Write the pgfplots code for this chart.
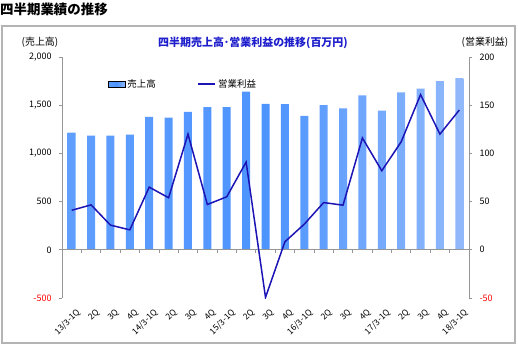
\documentclass[border=0pt]{standalone}
\usepackage{pgfplots}
\pgfplotsset{compat=1.18}
\usepackage{fontspec}
\setmainfont{Noto Sans CJK JP}
\definecolor{BarBlue}{HTML}{4D94FF}
\definecolor{BarLight}{HTML}{E6E6F6}
\definecolor{LineBlue}{HTML}{1C14B4}
\definecolor{TitleBlue}{HTML}{1E1ECC}
\definecolor{FrameGray}{HTML}{B4B4B4}
\definecolor{AxisGray}{HTML}{969696}
\pgfdeclarehorizontalshading{barshade}{100bp}{color(0bp)=(BarLight); color(20bp)=(BarBlue!85!BarLight); color(50bp)=(BarBlue); color(75bp)=(BarBlue!55!BarLight); color(100bp)=(BarLight)}
\begin{document}
\begin{tikzpicture}[x=1bp,y=1bp]
\useasboundingbox (0,0) rectangle (518,352);
\draw[FrameGray, line width=1.5bp] (2,326) rectangle (515,9);
\node[anchor=west, inner sep=0, font=\fontsize{13.5}{15}\selectfont\bfseries] at (0,343) {四半期業績の推移};
\node[font=\fontsize{11}{12}\selectfont\bfseries, text=TitleBlue] at (253,309) {四半期売上高･営業利益の推移(百万円)};
\node[font=\fontsize{10}{12}\selectfont] at (40,310) {(売上高)};
\node[font=\fontsize{10}{12}\selectfont] at (485,310) {(営業利益)};
\begin{axis}[
  at={(62bp,54bp)}, anchor=south west,
  scale only axis, width=407bp, height=241bp,
  xmin=-0.5, xmax=20.5, ymin=-500, ymax=2000,
  axis lines*=left, clip=false,
  x axis line style={draw=none},
  axis line style={AxisGray, line width=0.8bp},
  xtick={0,...,20},
  xticklabels={13/3-1Q,2Q,3Q,4Q,14/3-1Q,2Q,3Q,4Q,15/3-1Q,2Q,3Q,4Q,16/3-1Q,2Q,3Q,4Q,17/3-1Q,2Q,3Q,4Q,18/3-1Q},
  xtick style={draw=none},
  xticklabel style={rotate=45, anchor=east, font=\fontsize{8.5}{10}\selectfont, yshift=-12bp, xshift=1bp},
  ytick={-500,0,500,1000,1500,2000},
  yticklabels={\textcolor{red}{-500},0,500,{1,000},{1,500},{2,000}},
  yticklabel style={font=\fontsize{9}{10}\selectfont, xshift=-4bp},
  ytick style={AxisGray, line width=0.8bp},
  tick align=outside, major tick length=3bp,
]
\addplot[ybar, bar width=8bp, draw=none, shade, shading=barshade] coordinates {
(0,1215) (1,1185) (2,1185) (3,1195) (4,1380) (5,1370) (6,1430) (7,1480) (8,1480) (9,1640)
(10,1515) (11,1510) (12,1390) (13,1500) (14,1468) (15,1603) (16,1443) (17,1634) (18,1672) (19,1751) (20,1782)};
\draw[AxisGray, line width=0.8bp] (axis cs:-0.5,0) -- (axis cs:20.5,0);
\pgfplotsinvokeforeach{-0.5,0.5,1.5,2.5,3.5,4.5,5.5,6.5,7.5,8.5,9.5,10.5,11.5,12.5,13.5,14.5,15.5,16.5,17.5,18.5,19.5,20.5}{
  \draw[AxisGray, line width=0.8bp] (axis cs:#1,0) -- ++(0bp,-3bp);
}
\end{axis}
\begin{axis}[
  at={(62bp,54bp)}, anchor=south west,
  scale only axis, width=407bp, height=241bp,
  xmin=-0.5, xmax=20.5, ymin=-50, ymax=200,
  axis y line*=right, axis x line=none,
  axis line style={AxisGray, line width=0.8bp},
  ytick={-50,0,50,100,150,200},
  yticklabels={\textcolor{red}{-50},0,50,100,150,200},
  yticklabel style={font=\fontsize{9}{10}\selectfont, xshift=4bp},
  ytick style={AxisGray, line width=0.8bp},
  tick align=outside, major tick length=3bp,
  legend columns=2,
  legend style={draw=none, fill=none, at={(0.105,0.888)}, anchor=west,
    font=\fontsize{9.5}{11}\selectfont,
    /tikz/every even column/.append style={column sep=40bp}},
]
\addlegendimage{area legend, draw=none, shade, shading=barshade}
\addlegendentry{売上高}
\addplot[LineBlue, line width=1.5bp, mark=none] coordinates {
(0,41) (1,46.6) (2,25.6) (3,20.7) (4,65) (5,54) (6,120) (7,47) (8,55) (9,91)
(10,-49.4) (11,8.3) (12,26.6) (13,49) (14,46.3) (15,116) (16,82) (17,112) (18,161) (19,120) (20,145)};
\addlegendentry{営業利益}
\end{axis}
\end{tikzpicture}
\end{document}
